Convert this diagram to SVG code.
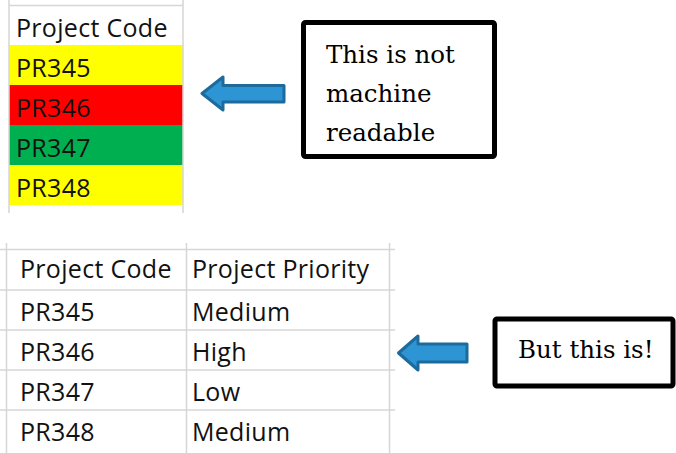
<svg xmlns="http://www.w3.org/2000/svg" width="676" height="453" viewBox="0 0 676 453">
  <style>
    .grid { stroke: #d6d6d6; stroke-width: 1.5; fill: none; }
    .cell { font-family: "Open Sans", "Liberation Sans", sans-serif; font-size: 25px; letter-spacing: 0.3px; fill: #111; }
    .note { font-family: "DejaVu Serif", "Liberation Serif", serif; font-size: 24.5px; fill: #000; }
    .box { fill: #fff; stroke: #000; stroke-width: 5; }
    .arrow { fill: #2e95d5; stroke: #1d6a9c; stroke-width: 3; stroke-linejoin: round; }
  </style>

  <rect width="676" height="453" fill="#fff"/>

  <!-- colour-coded sheet -->
  <g id="colour-table">
    <rect x="9" y="45" width="174" height="40" fill="#ffff00"/>
    <rect x="9" y="85" width="174" height="40" fill="#ff0000"/>
    <rect x="9" y="125" width="174" height="40" fill="#00b050"/>
    <rect x="9" y="165" width="174" height="40" fill="#ffff00"/>
    <path class="grid" d="M9 0V213M183 0V213M9 5.5H183"/>
    <text class="cell" x="16" y="37">Project Code</text>
    <text class="cell" x="16" y="77">PR345</text>
    <text class="cell" x="16" y="117">PR346</text>
    <text class="cell" x="16" y="157">PR347</text>
    <text class="cell" x="16" y="197">PR348</text>
  </g>

  <!-- sheet with priority column -->
  <g id="priority-table">
    <path class="grid" d="M6.5 243V453M186.5 243V453M389.5 243V453M0 249.5H395M0 290H395M0 330H395M0 370H395M0 410H395"/>
    <text class="cell" x="20" y="278">Project Code</text>
    <text class="cell" x="192" y="278">Project Priority</text>
    <text class="cell" x="20" y="321">PR345</text>
    <text class="cell" x="192" y="321">Medium</text>
    <text class="cell" x="20" y="361">PR346</text>
    <text class="cell" x="192" y="361">High</text>
    <text class="cell" x="20" y="401">PR347</text>
    <text class="cell" x="192" y="401">Low</text>
    <text class="cell" x="20" y="441">PR348</text>
    <text class="cell" x="192" y="441">Medium</text>
  </g>

  <!-- callouts -->
  <g id="note-not-readable">
    <rect class="box" x="303.5" y="22.5" width="191" height="134" rx="2"/>
    <text class="note" x="326" y="63">This is not</text>
    <text class="note" x="326" y="102">machine</text>
    <text class="note" x="326" y="141">readable</text>
  </g>
  <g id="note-readable">
    <rect class="box" x="495" y="319" width="178" height="67" rx="2"/>
    <text class="note" x="518" y="358">But this is!</text>
  </g>

  <!-- pointer arrows -->
  <g id="connectors">
    <path class="arrow" d="M202 93.5L223 77V85.5H284V102H223V110Z"/>
    <path class="arrow" d="M398.5 353L418 336V344H467V362H418V370Z"/>
  </g>
</svg>
